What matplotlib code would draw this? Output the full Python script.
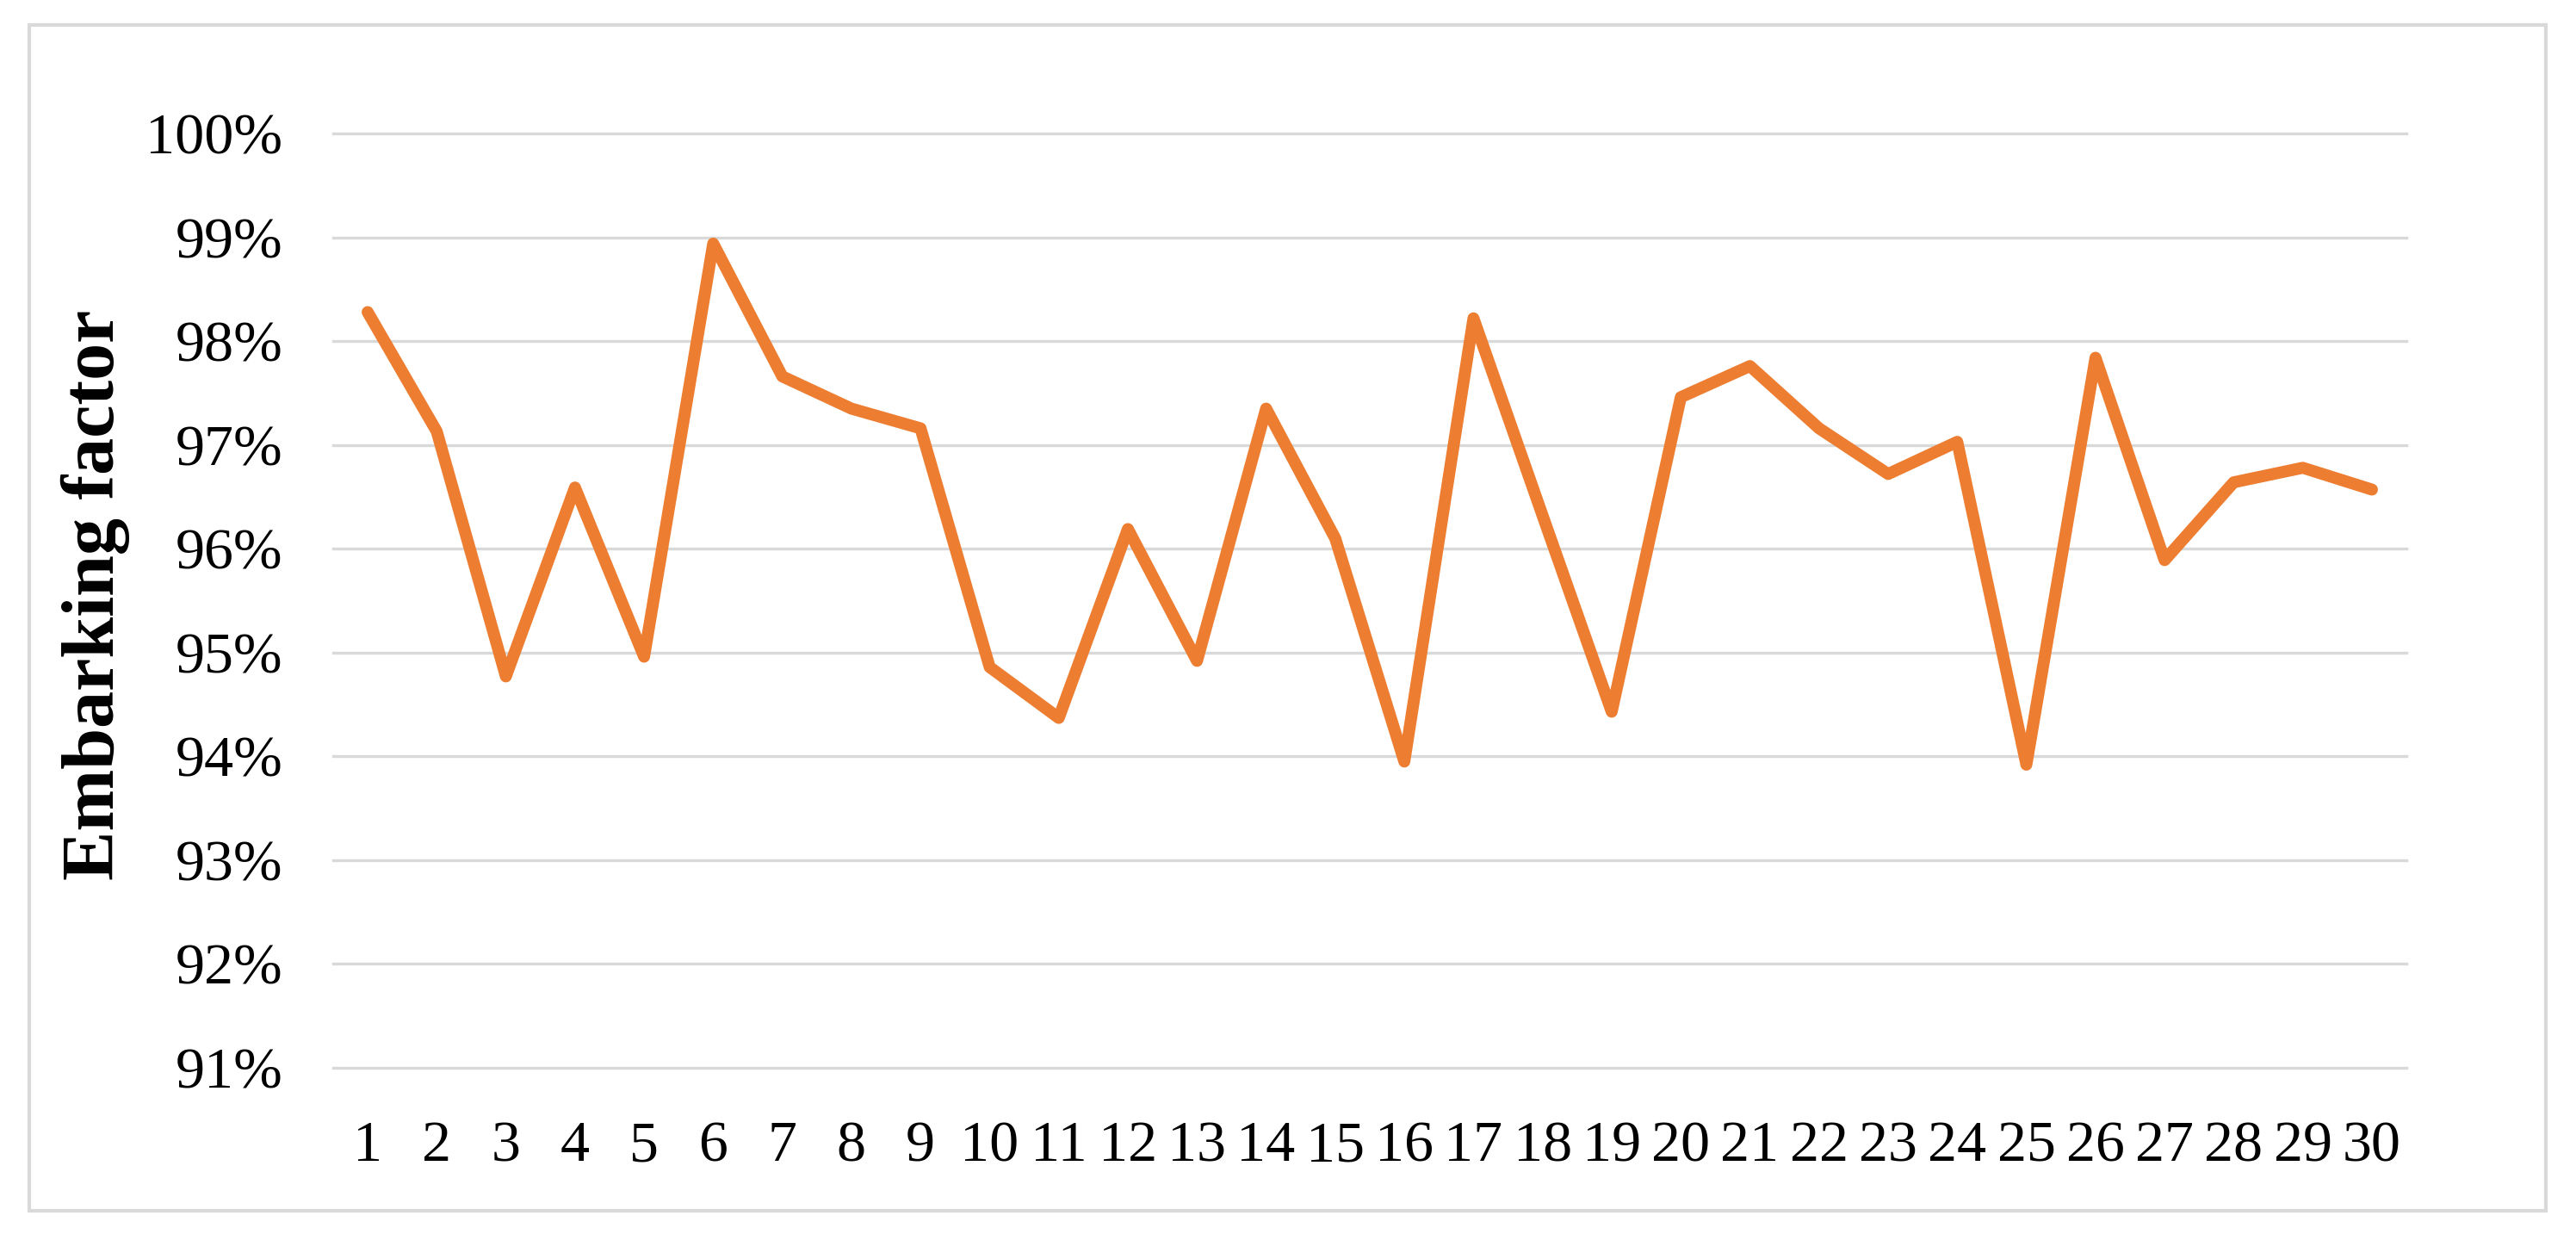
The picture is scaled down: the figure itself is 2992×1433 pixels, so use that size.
import matplotlib
matplotlib.use("Agg")
import matplotlib.pyplot as plt
import matplotlib.ticker as ticker
from matplotlib.patches import Rectangle

# ─── data ─────────────────────────────────────────────────────────────────────
runs = list(range(1, 31))
embarking = [98.28, 97.13, 94.77, 96.59, 94.96, 98.94, 97.66, 97.35, 97.16, 94.86,
             94.37, 96.19, 94.92, 97.35, 96.10, 93.95, 98.22, 96.32, 94.43, 97.46,
             97.76, 97.16, 96.72, 97.03, 93.92, 97.84, 95.89, 96.64, 96.78, 96.57]
y_ticks = [91, 92, 93, 94, 95, 96, 97, 98, 99, 100]

ORANGE = "#ED7D31"
GRID = "#D9D9D9"

plt.rcParams["font.family"] = ["Liberation Serif", "DejaVu Serif"]

fig = plt.figure(figsize=(29.92, 14.33), dpi=100)
ax = fig.add_axes([0.1293, 0.1347, 0.8049, 0.7571])

ax.plot(runs, embarking, color=ORANGE, linewidth=10, solid_joinstyle="round",
        solid_capstyle="round", zorder=3)

ax.set_xlim(0.5, 30.5)
ax.set_ylim(91, 100)
ax.set_yticks(y_ticks)
ax.set_xticks(runs)
ax.set_xticklabels([str(r) for r in runs])
ax.yaxis.set_major_formatter(ticker.FuncFormatter(lambda v, _: f"{v:.0f}%"))

ax.grid(axis="y", color=GRID, linewidth=2.4, zorder=0)
ax.grid(axis="x", visible=False)
for s in ax.spines.values():
    s.set_visible(False)
ax.tick_params(axis="both", length=0, labelsize=49, colors="black")
ax.tick_params(axis="y", pad=42)
ax.tick_params(axis="x", pad=44)
for gl in ax.get_ygridlines():
    gl.set_clip_on(False)

fig.text(0.037, 0.518, "Embarking factor", rotation=90, ha="center", va="center",
         fontsize=62, fontweight="bold")

# light outer frame around the chart
fig.patches.append(Rectangle((34 / 2992, 27 / 1433), (2957 - 34) / 2992, (1406 - 29) / 1433,
                             transform=fig.transFigure, fill=False,
                             edgecolor=GRID, linewidth=3))

fig.savefig("out.png", dpi=100, facecolor="white")
